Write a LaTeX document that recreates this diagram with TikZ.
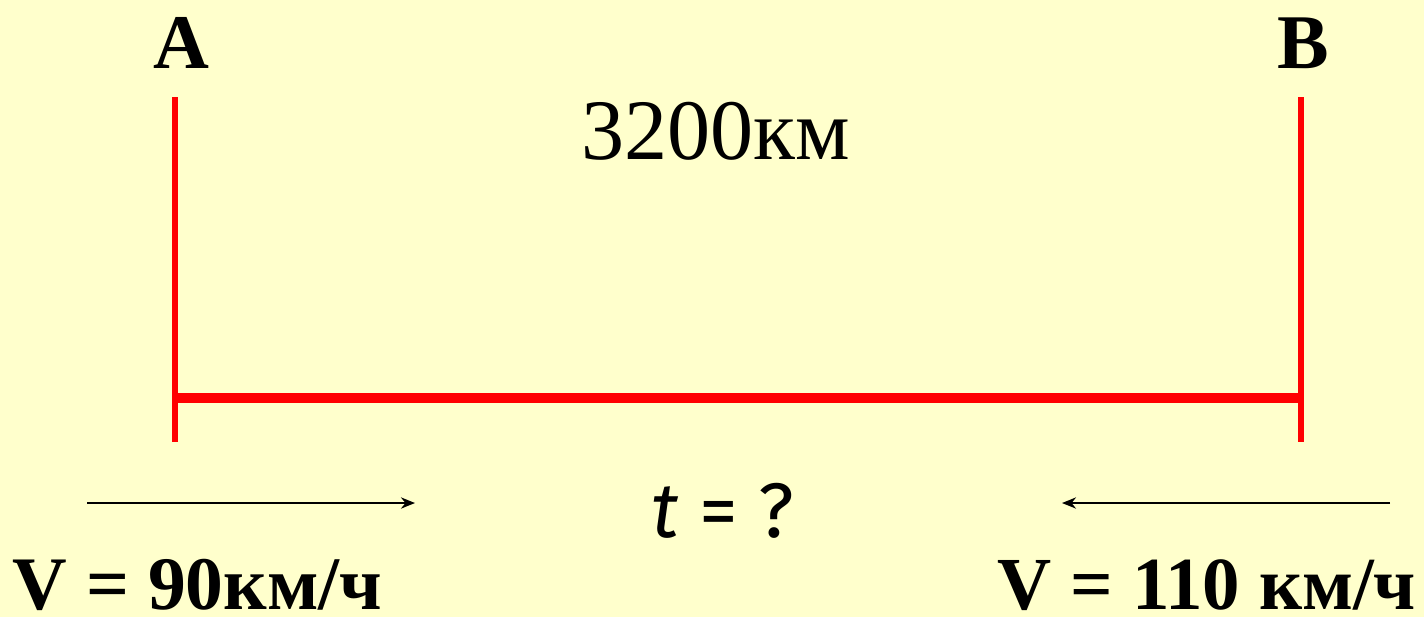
\documentclass[tikz,border=0pt]{standalone}
\usepackage{fontspec}
\setmainfont{Liberation Serif}
\newfontfamily\handfont{Fira Sans}
\usepackage{xcolor}
\usetikzlibrary{arrows.meta}
\definecolor{paper}{HTML}{FFFFCC}
\tikzstyle{road} = [draw=red, line width=1.7pt]
\tikzstyle{way} = [draw, line width=0.5pt, -{Stealth[length=4pt,width=3.2pt]}]
\tikzstyle{lbl} = [inner sep=0pt, anchor=base]

\begin{document}
\begin{tikzpicture}[x=0.01cm,y=-0.01cm]
\useasboundingbox (0,0) rectangle (1424,617);
\fill[paper] (0,0) rectangle (1424,617);
%
\coordinate (Atop) at (175,97);
\coordinate (Abot) at (175,442);
\coordinate (Btop) at (1301,97);
\coordinate (Bbot) at (1301,442);
\coordinate (Amid) at (175,398);
\coordinate (Bmid) at (1301,398);
\draw[road] (Atop) -- (Abot);
\draw[road] (Btop) -- (Bbot);
\draw[road, line width=2.9pt] (Amid) -- (Bmid);
%
\node[lbl] (A) at (181,68) {\fontsize{22}{26}\selectfont\bfseries A};
\node[lbl] (B) at (1303,68) {\fontsize{22}{26}\selectfont\bfseries B};
\node[lbl] (dist) at (716,159) {\fontsize{24.5}{29}\selectfont 3200км};
%
\coordinate (s1) at (87,503);
\coordinate (e1) at (415,503);
\coordinate (s2) at (1390,503);
\coordinate (e2) at (1062,503);
\draw[way] (s1) -- (e1);
\draw[way] (s2) -- (e2);
\node[lbl] (time) at (723,537) {\fontsize{22}{26}\selectfont\handfont\textit{t} = ?};
%
\node[lbl, anchor=base west, text depth=0pt] (v1) at (12,609) {\fontsize{21.5}{26}\selectfont\bfseries V = 90км/ч};
\node[lbl, anchor=base east, text depth=0pt] (v2) at (1417,609) {\fontsize{21.3}{26}\selectfont\bfseries V = 110 км/ч};
\end{tikzpicture}
\end{document}
